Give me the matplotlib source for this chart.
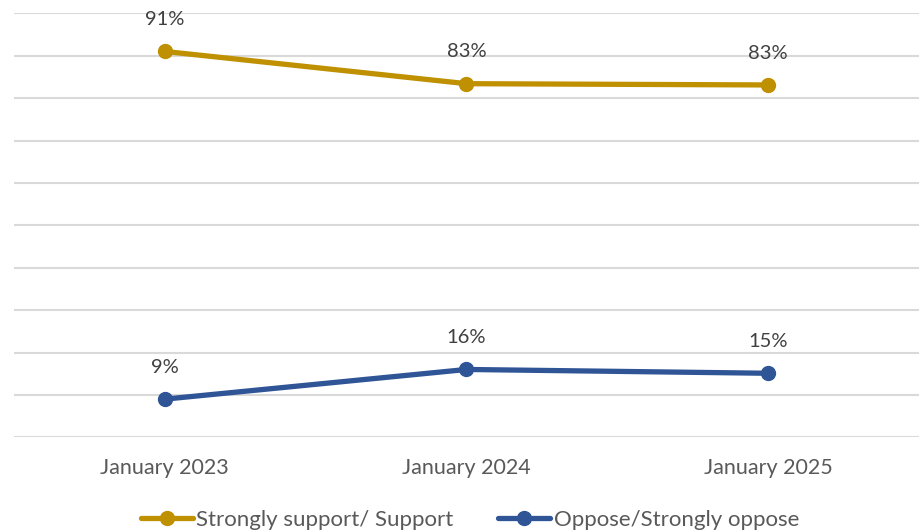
import matplotlib
matplotlib.use("Agg")
import matplotlib.pyplot as plt
from matplotlib.ticker import MultipleLocator

categories = ["January 2023", "January 2024", "January 2025"]
support = [91, 83.4, 83.1]
oppose = [9, 16.0, 15.1]
series_names = ["Strongly support/ Support", "Oppose/Strongly oppose"]
colors = ["#BF9000", "#2F5597"]

plt.rcParams['font.family'] = ['Lato', 'DejaVu Sans']

W, H = 924, 532
fig = plt.figure(figsize=(W/100, H/100), dpi=100)
ax = fig.add_axes([14/W, 1-437.3/H, (919-14)/W, (437.3-13.3)/H])

x = list(range(len(categories)))
for vals, name, c in zip([support, oppose], series_names, colors):
    ax.plot(x, vals, color=c, lw=3.8, marker='o', markersize=10, label=name,
            solid_capstyle='round', zorder=3, clip_on=False)
    for xi, v in zip(x, vals):
        ax.annotate(f"{v:.0f}%", (xi, v), xytext=(0, 23), textcoords='offset points',
                    ha='center', va='center', fontsize=14.5, color='#404040')

ax.set_xlim(-0.5, 2.5)
ax.set_ylim(0, 100)
ax.yaxis.set_major_locator(MultipleLocator(10))
ax.set_yticklabels([])
ax.tick_params(axis='y', length=0)
ax.set_xticks(x)
ax.set_xticklabels(categories, fontsize=15.5, color='#595959')
ax.tick_params(axis='x', length=0, pad=15)
ax.grid(axis='y', color='#D9D9D9', lw=1.5)
ax.set_axisbelow(True)
for s in ax.spines.values():
    s.set_visible(False)

leg = fig.legend(loc='center', bbox_to_anchor=(470/W, 1-520/H), ncol=2, frameon=False,
                 fontsize=16, handlelength=2.35, columnspacing=2.0, handletextpad=0.15)
for t in leg.get_texts():
    t.set_color('#595959')

fig.savefig("out.png", dpi=100)
